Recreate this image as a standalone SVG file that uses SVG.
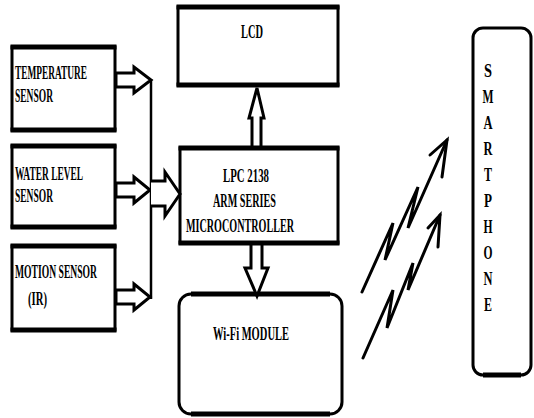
<svg xmlns="http://www.w3.org/2000/svg" width="534" height="418" viewBox="0 0 534 418">
<style>
.box{fill:#fff;stroke:#000;stroke-width:3}
.edge{stroke:#000;stroke-width:5;fill:none}
.t{font-family:"Liberation Serif","Times New Roman",serif;font-weight:bold;font-size:19px;fill:#000}
.v{font-family:"Liberation Serif","Times New Roman",serif;font-weight:bold;font-size:18px;fill:#000;text-anchor:middle}
.harrow{fill:#fff;stroke:#000;stroke-width:3;stroke-linejoin:miter}
.ln{fill:none;stroke:#000;stroke-width:2.5}
.zz{fill:none;stroke:#000;stroke-width:3;stroke-linejoin:miter;stroke-linecap:round}
</style>
<g id="temp">
<rect class="box" x="12" y="47" width="103" height="83"/>
<line class="edge" x1="10.5" y1="47" x2="116.5" y2="47"/>
<line class="edge" x1="10.5" y1="130" x2="116.5" y2="130"/>
<text class="t" x="15" y="79" textLength="72" lengthAdjust="spacingAndGlyphs">TEMPERATURE</text>
<text class="t" x="15" y="102" textLength="38" lengthAdjust="spacingAndGlyphs">SENSOR</text>
</g>
<g id="water">
<rect class="box" x="12" y="146" width="103" height="81"/>
<line class="edge" x1="10.5" y1="146" x2="116.5" y2="146"/>
<line class="edge" x1="10.5" y1="227" x2="116.5" y2="227"/>
<text class="t" x="15" y="180" textLength="68" lengthAdjust="spacingAndGlyphs">WATER LEVEL</text>
<text class="t" x="15" y="202" textLength="38" lengthAdjust="spacingAndGlyphs">SENSOR</text>
</g>
<g id="motion">
<rect class="box" x="12" y="246" width="103" height="84"/>
<line class="edge" x1="10.5" y1="246" x2="116.5" y2="246"/>
<line class="edge" x1="10.5" y1="330" x2="116.5" y2="330"/>
<text class="t" x="15" y="278" textLength="82" lengthAdjust="spacingAndGlyphs">MOTION SENSOR</text>
<text class="t" x="28" y="305" textLength="19" lengthAdjust="spacingAndGlyphs">(IR)</text>
</g>
<g id="lcd">
<rect class="box" x="178" y="7" width="160" height="78"/>
<line class="edge" x1="176.5" y1="7" x2="339.5" y2="7"/>
<line class="edge" x1="176.5" y1="85" x2="339.5" y2="85"/>
<text class="t" x="241" y="38" textLength="22" lengthAdjust="spacingAndGlyphs">LCD</text>
</g>
<g id="mcu">
<rect class="box" x="180" y="148" width="158" height="95"/>
<line class="edge" x1="178.5" y1="148" x2="339.5" y2="148"/>
<line class="edge" x1="178.5" y1="243" x2="339.5" y2="243"/>
<text class="t" x="223" y="182" textLength="46" lengthAdjust="spacingAndGlyphs">LPC 2138</text>
<text class="t" x="213" y="207" textLength="63" lengthAdjust="spacingAndGlyphs">ARM SERIES</text>
<text class="t" x="186" y="232" textLength="108" lengthAdjust="spacingAndGlyphs">MICROCONTROLLER</text>
</g>
<g id="wifi">
<rect class="box" x="179" y="294" width="163" height="120" rx="12"/>
<path class="edge" d="M191,294 H330 M191,414 H330"/>
<text class="t" x="213" y="340" textLength="76" lengthAdjust="spacingAndGlyphs">Wi-Fi MODULE</text>
</g>
<g id="smartphone">
<rect class="box" x="473" y="28" width="58" height="347" rx="10"/>
<path class="edge" d="M483,375 H521"/>
<text class="v" x="488" y="77" textLength="8" lengthAdjust="spacingAndGlyphs">S</text>
<text class="v" x="488" y="103" textLength="11" lengthAdjust="spacingAndGlyphs">M</text>
<text class="v" x="488" y="129" textLength="9" lengthAdjust="spacingAndGlyphs">A</text>
<text class="v" x="488" y="155" textLength="9" lengthAdjust="spacingAndGlyphs">R</text>
<text class="v" x="488" y="181" textLength="8" lengthAdjust="spacingAndGlyphs">T</text>
<text class="v" x="488" y="207" textLength="8" lengthAdjust="spacingAndGlyphs">P</text>
<text class="v" x="488" y="233" textLength="9" lengthAdjust="spacingAndGlyphs">H</text>
<text class="v" x="488" y="259" textLength="9" lengthAdjust="spacingAndGlyphs">O</text>
<text class="v" x="488" y="285" textLength="9" lengthAdjust="spacingAndGlyphs">N</text>
<text class="v" x="488" y="311" textLength="8" lengthAdjust="spacingAndGlyphs">E</text>
</g>
<g id="connectors">
<polygon class="harrow" points="116,73 134,73 134,67 151,80 134,93 134,87 116,87"/>
<polygon class="harrow" points="116,183 134,183 134,177 150,190 134,203 134,197 116,197"/>
<polygon class="harrow" points="116,290 134,290 134,284 150,297 134,310 134,304 116,304"/>
<line class="ln" x1="151" y1="79" x2="151" y2="299"/>
<polyline class="harrow" points="151,181 165,181 165,172 180,194 165,216 165,206 151,206"/>
<polygon class="harrow" points="252,147 252,118 249,118 257,88 264,118 261,118 261,147"/>
<polygon class="harrow" points="251,244 251,268 245,268 257,296 268,268 262,268 262,244"/>
<polyline class="zz" points="362,292 393,223 385,260 418,187 408,228 447,140"/>
<polyline class="zz" points="430,155 447,140 442,177"/>
<polyline class="zz" points="363,358 393,290 387,328 413,263 408,290 440,215"/>
<polyline class="zz" points="428,228 440,215 438,247"/>
</g>
</svg>
